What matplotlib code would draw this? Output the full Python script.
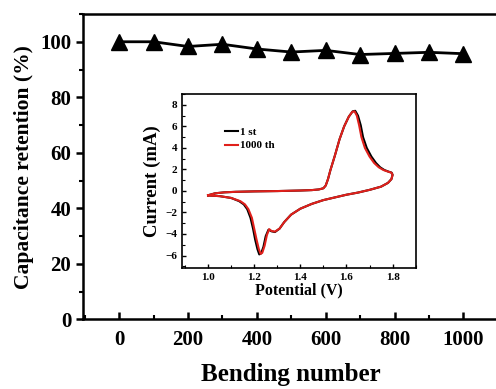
import matplotlib
matplotlib.use("Agg")
import matplotlib.pyplot as plt
from matplotlib.ticker import MultipleLocator

plt.rcParams['font.family'] = ['Liberation Serif', 'DejaVu Serif']
plt.rcParams['font.weight'] = 'bold'

# Main data
bending = [0, 100, 200, 300, 400, 500, 600, 700, 800, 900, 1000]
retention = [100.0, 100.0, 98.3, 99.1, 97.4, 96.3, 96.9, 95.4, 95.8, 96.2, 95.7]

# CV data (potential V, current mA)
v_1000 = [1.00, 1.03, 1.07, 1.12, 1.20, 1.30, 1.40, 1.45, 1.48, 1.50, 1.51, 1.52, 1.53, 1.55, 1.57,
          1.59, 1.61, 1.625, 1.635, 1.645, 1.655, 1.665, 1.68, 1.70, 1.72, 1.74, 1.76, 1.78, 1.795,
          1.80, 1.795, 1.78, 1.75, 1.70, 1.65, 1.60, 1.55, 1.50, 1.45, 1.40, 1.36, 1.33, 1.31, 1.29,
          1.275, 1.265, 1.255, 1.245, 1.235, 1.228, 1.22, 1.21, 1.20, 1.19, 1.175, 1.16, 1.14, 1.10,
          1.05, 1.00]
i_1000 = [-0.40, -0.22, -0.13, -0.08, -0.04, -0.01, 0.04, 0.08, 0.14, 0.25, 0.50, 1.10, 1.90, 3.30, 4.80,
          6.00, 6.90, 7.35, 7.40, 7.00, 6.10, 5.00, 4.00, 3.20, 2.60, 2.20, 1.95, 1.80, 1.70,
          1.50, 1.10, 0.75, 0.40, 0.10, -0.15, -0.35, -0.60, -0.85, -1.20, -1.65, -2.20, -2.90, -3.50, -3.78,
          -3.72, -3.55, -4.10, -5.10, -5.75, -5.85, -5.40, -4.50, -3.50, -2.50, -1.70, -1.25, -0.95, -0.65,
          -0.48, -0.42]

v_1st = [1.00, 1.03, 1.07, 1.12, 1.20, 1.30, 1.40, 1.45, 1.48, 1.50, 1.51, 1.52, 1.53, 1.55, 1.57,
         1.59, 1.61, 1.627, 1.638, 1.65, 1.662, 1.672, 1.688, 1.708, 1.728, 1.746, 1.764, 1.782, 1.796,
         1.80, 1.795, 1.78, 1.75, 1.70, 1.65, 1.60, 1.55, 1.50, 1.45, 1.40, 1.36, 1.33, 1.31, 1.29,
         1.275, 1.262, 1.25, 1.24, 1.23, 1.222, 1.214, 1.204, 1.195, 1.184, 1.17, 1.155, 1.135, 1.10,
         1.05, 1.00]
i_1st = [-0.40, -0.22, -0.13, -0.08, -0.04, -0.01, 0.04, 0.08, 0.14, 0.25, 0.50, 1.10, 1.90, 3.30, 4.80,
         6.00, 6.90, 7.40, 7.45, 7.00, 6.10, 5.00, 4.00, 3.20, 2.60, 2.20, 1.95, 1.80, 1.70,
         1.50, 1.10, 0.75, 0.40, 0.10, -0.15, -0.35, -0.60, -0.85, -1.20, -1.65, -2.20, -2.90, -3.50, -3.82,
         -3.75, -3.60, -4.20, -5.20, -5.80, -5.90, -5.40, -4.50, -3.50, -2.50, -1.70, -1.25, -0.95, -0.65,
         -0.48, -0.42]

fig = plt.figure(figsize=(4.96, 3.89), dpi=100)
ax = fig.add_axes([0.1673, 0.179, 0.8365, 0.785])
ax.plot(bending, retention, color='black', lw=2.0, marker='^', markersize=11)
ax.set_xlim(-105, 1100)
ax.set_ylim(0, 110)
ax.xaxis.set_major_locator(MultipleLocator(200))
ax.xaxis.set_minor_locator(MultipleLocator(100))
ax.yaxis.set_major_locator(MultipleLocator(20))
ax.yaxis.set_minor_locator(MultipleLocator(10))
ax.tick_params(axis='x', which='both', direction='in', labelsize=15, pad=8)
ax.tick_params(axis='y', which='both', direction='out', labelsize=15)
ax.tick_params(which='major', length=5, width=1.8)
ax.tick_params(which='minor', length=3, width=1.5)
for s in ax.spines.values():
    s.set_linewidth(1.8)
ax.set_xlabel('Bending number', fontsize=18, fontweight='bold', labelpad=9)
ax.set_ylabel('Capacitance retention (%)', fontsize=15.5, fontweight='bold', labelpad=4)

ins = fig.add_axes([0.366, 0.310, 0.472, 0.448])
ins.plot(v_1st, i_1st, color='black', lw=1.5, label='1 st')
ins.plot(v_1000, i_1000, color='#e0201b', lw=1.5, label='1000 th')
ins.set_xlim(0.885, 1.9)
ins.set_ylim(-7.2, 9.0)
ins.xaxis.set_major_locator(MultipleLocator(0.2))
ins.xaxis.set_minor_locator(MultipleLocator(0.1))
ins.yaxis.set_major_locator(MultipleLocator(2))
ins.yaxis.set_minor_locator(MultipleLocator(1))
ins.tick_params(which='both', direction='in', labelsize=8, pad=3)
ins.tick_params(which='major', length=3, width=1)
ins.tick_params(which='minor', length=2, width=0.8)
for s in ins.spines.values():
    s.set_linewidth(1.2)
ins.set_xlabel('Potential (V)', fontsize=11.5, fontweight='bold', labelpad=0.5)
ins.set_ylabel('Current (mA)', fontsize=13.5, fontweight='bold', labelpad=3)
ins.legend(loc='upper left', bbox_to_anchor=(0.16, 0.84), frameon=False,
           prop={'size': 8, 'weight': 'bold'}, handlelength=1.2, handletextpad=0.2,
           labelspacing=0.3, borderpad=0)

fig.savefig('out.png', dpi=100)
